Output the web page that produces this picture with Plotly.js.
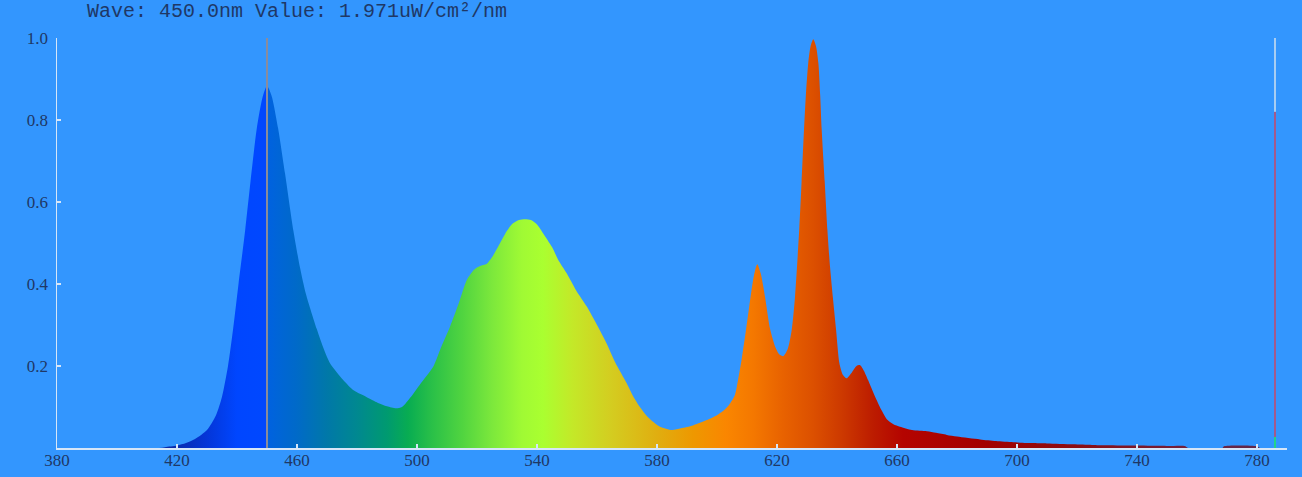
<!DOCTYPE html>
<html>
<head>
<meta charset="utf-8">
<script src="https://cdn.plot.ly/plotly-3.0.1.min.js"></script>
<style>html,body{margin:0;padding:0;background:#3396fe;}#chart{width:1302px;height:477px;}</style>
</head>
<body>
<div id="chart"></div>
<script>
// Spectrum data (wavelength nm -> relative value)
const wavelengths = [380,414,416,420,423,426,430,433,435,437,438.7,440.5,442.7,444.5,446.6,448.5,450,451.5,453.7,456,458.8,461,463,466.6,469,471,475.4,479,483,487,490,493,495,498,501,505.4,508,511,514,516.6,519,521,523.2,525,527.7,530,532,534,536,538,540,542,545,547,549.9,553,556.6,560,563.2,566,569.9,572,574.3,577,581,585,588,592,596.6,600,602,604,606,607,608.2,609.7,611.2,612.3,613.4,614.6,616,617.7,619.5,620.8,622.1,623.5,624.9,626,627.4,628.2,629,629.7,630.4,631.2,632.1,633,633.8,634.4,634.9,635.9,636.8,637.7,638.6,639.7,640.8,642,643.2,645,646.5,647.7,649,650.4,652.7,655,656.6,658.8,661,665,670,673,676.6,680,687.7,693,698.8,705,710,718.7,725,730,740,750,756,757,768.5,769,780,781,790];
const values = [0,0,0.002,0.006,0.012,0.022,0.044,0.08,0.125,0.2,0.29,0.40,0.53,0.65,0.78,0.855,0.883,0.86,0.78,0.67,0.53,0.44,0.375,0.29,0.24,0.207,0.166,0.14,0.125,0.11,0.102,0.097,0.10,0.125,0.155,0.198,0.245,0.296,0.355,0.41,0.435,0.444,0.449,0.465,0.50,0.53,0.548,0.556,0.558,0.556,0.545,0.524,0.49,0.46,0.426,0.385,0.345,0.30,0.255,0.21,0.158,0.127,0.10,0.075,0.052,0.044,0.048,0.055,0.068,0.08,0.09,0.105,0.13,0.165,0.215,0.29,0.369,0.42,0.448,0.425,0.369,0.29,0.245,0.228,0.224,0.24,0.288,0.369,0.532,0.65,0.776,0.87,0.938,0.98,0.997,0.98,0.938,0.86,0.776,0.65,0.532,0.44,0.369,0.288,0.207,0.178,0.17,0.185,0.2,0.202,0.188,0.165,0.125,0.09,0.07,0.058,0.052,0.044,0.041,0.037,0.032,0.028,0.021,0.017,0.014,0.012,0.011,0.009,0.0075,0.0066,0.0058,0.005,0.005,0,0,0.004,0.004,0,0];

// Selected wavelength cursor (grey line) and the right-hand level indicator
const selectedWave = 450.0;
const selectedValue = 1.971;
const indicatorWave = 786;
const indicatorLevels = [0, 0.027, 0.82, 1.0];

// Axis ticks
const xTicks = [380,420,460,500,540,580,620,660,700,740,780];
const yTicks = [0.2,0.4,0.6,0.8,1.0];
const yTickText = ["0.2","0.4","0.6","0.8","1.0"];

const xMin = 380, xMax = 790;

// Colour gradient along wavelength (style)
const gradStops = [
  [380,'#0a1f90'],[418,'#0a2aa8'],[430,'#0436d8'],[440,'#0046ff'],[449.8,'#0048ff'],
  [450.2,'#0062e0'],[460,'#006ac8'],[470,'#0078a8'],[480,'#008890'],[490,'#009a70'],
  [497,'#08ac52'],[505,'#2ac048'],[515,'#50d440'],[525,'#7ce83c'],[535,'#a0fa34'],
  [542,'#aaff30'],[552,'#c4e828'],[565,'#d4cc20'],[580,'#e0ae10'],[592,'#ee9800'],
  [603,'#fa8600'],[612,'#f47800'],[622,'#e86200'],[632,'#dc5000'],[642,'#cc3800'],
  [652,'#bc1c00'],[662,'#b40400'],[690,'#a20000'],[720,'#8c0c10'],[760,'#6e2240'],[790,'#5a2a50']
];
const colorscale = gradStops.map(s => [(s[0]-xMin)/(xMax-xMin), s[1]]);

const textColor = '#1f3866';
const axisColor = '#d6e6f8';

const traces = [
  {
    x: wavelengths, y: values, type: 'scatter', mode: 'lines',
    line: {width: 0, color: 'rgba(0,0,0,0)', shape: 'spline', smoothing: 0.7},
    fill: 'tozeroy',
    fillgradient: {type: 'horizontal', colorscale: colorscale, start: xMin, stop: xMax},
    hoverinfo: 'skip', showlegend: false
  },
  {
    x: [selectedWave, selectedWave], y: [0, 1], type: 'scatter', mode: 'lines',
    line: {color: '#8a8c9c', width: 2}, hoverinfo: 'skip', showlegend: false
  },
  {
    x: [indicatorWave, indicatorWave], y: [indicatorLevels[0], indicatorLevels[1]], type: 'scatter', mode: 'lines',
    line: {color: '#22d488', width: 2}, hoverinfo: 'skip', showlegend: false
  },
  {
    x: [indicatorWave, indicatorWave], y: [indicatorLevels[1], indicatorLevels[2]], type: 'scatter', mode: 'lines',
    line: {color: '#a25a8c', width: 2}, hoverinfo: 'skip', showlegend: false
  },
  {
    x: [indicatorWave, indicatorWave], y: [indicatorLevels[2], indicatorLevels[3]], type: 'scatter', mode: 'lines',
    line: {color: '#a8cdf2', width: 2}, hoverinfo: 'skip', showlegend: false
  }
];

const layout = {
  width: 1302, height: 477,
  paper_bgcolor: '#3396fe', plot_bgcolor: '#3396fe',
  margin: {l: 57, r: 15, t: 38, b: 29, pad: 0},
  showlegend: false,
  title: {
    text: 'Wave: ' + selectedWave.toFixed(1) + 'nm Value: ' + selectedValue.toFixed(3) + 'uW/cm²/nm',
    font: {family: 'Liberation Mono, monospace', size: 20, color: textColor},
    xref: 'container', yref: 'container', x: 87/1302, xanchor: 'left', y: 1 - 10/477, yanchor: 'middle'
  },
  xaxis: {
    range: [xMin, xMax], tickvals: xTicks, ticktext: xTicks.map(String),
    showgrid: false, zeroline: false, showline: true, linecolor: axisColor, linewidth: 1.5,
    ticks: 'inside', ticklen: 4, tickwidth: 1.5, tickcolor: axisColor,
    tickfont: {family: 'Liberation Serif, serif', size: 17, color: textColor},
    ticklabelstandoff: -4, fixedrange: true
  },
  yaxis: {
    range: [0, 1], tickvals: yTicks, ticktext: yTickText,
    showgrid: false, zeroline: false, showline: true, linecolor: axisColor, linewidth: 1.5,
    ticks: 'inside', ticklen: 4, tickwidth: 1.5, tickcolor: axisColor,
    tickfont: {family: 'Liberation Serif, serif', size: 17, color: textColor},
    ticklabelstandoff: 4, fixedrange: true
  }
};

Plotly.newPlot('chart', traces, layout, {displayModeBar: false, staticPlot: true});
</script>
</body>
</html>
